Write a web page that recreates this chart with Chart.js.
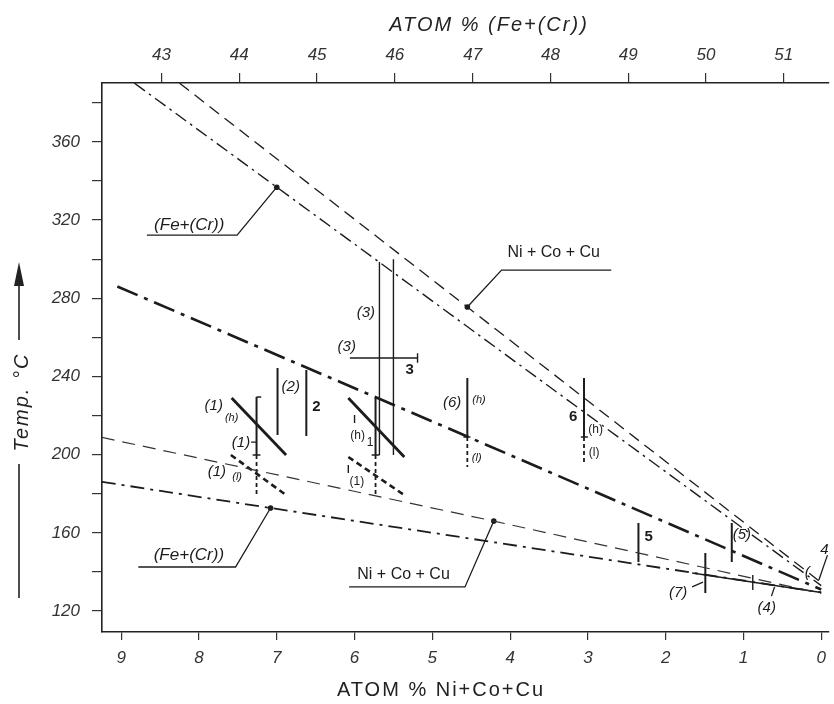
<!DOCTYPE html>
<html><head><meta charset="utf-8">
<script src="https://cdn.jsdelivr.net/npm/chart.js@4"></script>
<style>html,body{margin:0;padding:0;background:#fff}canvas{display:block}</style>
</head><body>
<canvas id="c" width="834" height="704"></canvas>
<script>
// ---- axis ticks ----
const bottomTicks = [9, 8, 7, 6, 5, 4, 3, 2, 1, 0];
const topTicks = [43, 44, 45, 46, 47, 48, 49, 50, 51];
const yTicks = [120, 140, 160, 180, 200, 220, 240, 260, 280, 300, 320, 340, 360, 380];
const yLabels = [120, 160, 200, 240, 280, 320, 360];

// ---- main lines (x = atom % Ni+Co+Cu, y = temperature °C) ----
const feUpperB = [8.83, 7.00, 0];
const feUpperT = [390.0, 336.8, 133.0];
const niUpperB = [8.25, 4.55, 0];
const niUpperT = [390.0, 275.5, 134.5];
const midB = [9.05, 4.81, 0];
const midT = [286.0, 213.7, 131.0];
const niLowerB = [9.25, 4.21, 0];
const niLowerT = [208.8, 166.0, 129.0];
const feLowerB = [9.25, 7.08, 0];
const feLowerT = [186.1, 172.7, 129.5];
const solid7B = [1.66, 0];
const solid7T = [139.4, 129.5];

// ---- measured segments [x1, y1, x2, y2] ----
const heavyDiag = [[7.58, 229.0, 6.88, 199.8], [6.08, 229.0, 5.36, 198.8]];
const heavyDiagDashed = [[7.59, 199.8, 6.88, 179.3], [6.08, 198.8, 5.36, 179.3]];
const rangeBars = [[7.26, 229.5, 7.26, 199.8], [6.99, 244.3, 6.99, 210.0], [6.62, 243.3, 6.62, 209.5],
  [5.73, 229.0, 5.73, 199.8], [4.55, 239.2, 4.55, 209.0], [3.05, 239.2, 3.05, 209.0],
  [2.35, 165.0, 2.35, 145.1], [1.15, 165.0, 1.15, 145.1], [1.49, 149.7, 1.49, 129.2]];
const rangeBarsDashed = [[7.26, 199.8, 7.26, 179.3], [5.73, 199.8, 5.73, 179.3],
  [4.55, 209.0, 4.55, 193.7], [3.05, 209.0, 3.05, 194.7]];
const thinBars = [[5.68, 298.5, 5.68, 199.8], [5.50, 300.0, 5.50, 199.8],
  [6.06, 249.4, 5.19, 249.4], [0.88, 138.4, 0.88, 130.7]];
const tickMarks = [[7.26, 229.5, 7.20, 229.5], [7.31, 199.8, 7.21, 199.8], [7.33, 206.4, 7.26, 206.4],
  [5.78, 199.8, 5.68, 199.8], [6.00, 220.3, 6.00, 216.2], [6.08, 194.7, 6.08, 190.6],
  [5.19, 251.8, 5.19, 247.0], [4.60, 209.0, 4.51, 209.0], [3.09, 209.0, 3.00, 209.0]];
const leaders = [
  [[8.67, 312.3], [7.51, 312.3], [7.00, 336.8]],
  [[4.55, 275.5], [4.11, 294.4], [2.70, 294.4]],
  [[8.78, 142.5], [7.53, 142.5], [7.08, 172.7]],
  [[6.07, 132.3], [4.58, 132.3], [4.21, 166.0]],
  [[1.66, 132.3], [1.52, 134.8]],
  [[0.64, 127.6], [0.60, 132.3]],
  [[-0.08, 148.6], [0.03, 135.9]]
];
const dotB = [7.00, 4.55, 7.08, 4.21];
const dotT = [336.8, 275.5, 172.7, 166.0];

// ---- text labels [text, x, y, kind] ----
const labelText = ['(Fe+(Cr))', 'Ni + Co + Cu', '(Fe+(Cr))', 'Ni + Co + Cu', '(3)', '(3)', '3', '(2)', '2',
  '(1)', '(h)', '(1)', '(1)', '(l)', '(h)', '1', '(1)', '(6)', '(h)', '(l)', '6', '(h)', '(l)',
  '5', '(5)', '(7)', '(4)', '4', '('];
const labelB = [8.125, 3.44, 8.13, 5.37, 5.855, 6.10, 5.29, 6.82, 6.49,
  7.81, 7.58, 7.46, 7.77, 7.51, 5.96, 5.80, 5.97, 4.745, 4.40, 4.43, 3.19, 2.90, 2.92,
  2.22, 1.02, 1.84, 0.70, -0.04, 0.18];
const labelT = [317.4, 303.1, 148.6, 138.4, 272.4, 255.0, 243.3, 234.6, 224.3,
  224.9, 218.7, 205.9, 191.1, 188.5, 209.5, 205.9, 186.0, 226.4, 227.9, 198.3, 219.2, 212.6, 200.8,
  157.9, 158.9, 129.2, 121.5, 151.2, 139.4];
const labelKind = ['bigI', 'big', 'bigI', 'big', 'mid', 'mid', 'up', 'mid', 'up',
  'mid', 'small', 'mid', 'mid', 'small', 'smallU', 'smallU', 'smallU', 'mid', 'small', 'small', 'up', 'smallU', 'smallU',
  'up', 'mid', 'mid', 'mid', 'mid', 'mid'];

const INK = '#1c1c1c';
const FONT = '"Liberation Sans", Arial, sans-serif';

function pts(b, t) { return b.map((v, i) => ({ x: v, y: t[i] })); }
function ds(data, opts) {
  return Object.assign({ data, showLine: true, pointRadius: 0, borderColor: INK, backgroundColor: INK,
    fill: false, tension: 0, xAxisID: 'x', yAxisID: 'y', borderCapStyle: 'butt' }, opts);
}
const datasets = [
  ds(pts(feUpperB, feUpperT), { borderWidth: 1.4, borderDash: [13, 5, 2.5, 5] }),
  ds(pts(niUpperB, niUpperT), { borderWidth: 1.3, borderDash: [12, 7] }),
  ds(pts(midB, midT), { borderWidth: 2.6, borderDash: [22, 7, 4, 7] }),
  ds(pts(niLowerB, niLowerT), { borderWidth: 1.2, borderDash: [13, 8], borderColor: '#333' }),
  ds(pts(feLowerB, feLowerT), { borderWidth: 1.8, borderDash: [14, 6, 3, 6] }),
  ds(pts(solid7B, solid7T), { borderWidth: 1.6 })
];
heavyDiag.forEach(s => datasets.push(ds(pts([s[0], s[2]], [s[1], s[3]]), { borderWidth: 2.8 })));
heavyDiagDashed.forEach(s => datasets.push(ds(pts([s[0], s[2]], [s[1], s[3]]), { borderWidth: 2.6, borderDash: [6, 4] })));
rangeBars.forEach(s => datasets.push(ds(pts([s[0], s[2]], [s[1], s[3]]), { borderWidth: 2.0 })));
rangeBarsDashed.forEach(s => datasets.push(ds(pts([s[0], s[2]], [s[1], s[3]]), { borderWidth: 1.8, borderDash: [4, 3] })));
thinBars.forEach(s => datasets.push(ds(pts([s[0], s[2]], [s[1], s[3]]), { borderWidth: 1.4 })));
tickMarks.forEach(s => datasets.push(ds(pts([s[0], s[2]], [s[1], s[3]]), { borderWidth: 1.4 })));
leaders.forEach(l => datasets.push(ds(l.map(p => ({ x: p[0], y: p[1] })), { borderWidth: 1.3 })));
datasets.push(ds(pts(dotB, dotT), { showLine: false, pointRadius: 2.8, pointBorderWidth: 0 }));

const KIND_FONT = {
  bigI: 'italic 17px ' + FONT,
  big: '16px ' + FONT,
  mid: 'italic 15px ' + FONT,
  up: 'bold 15px ' + FONT,
  small: 'italic 11px ' + FONT,
  smallU: '12px ' + FONT
};

const textPlugin = {
  id: 'texts',
  afterDatasetsDraw(chart) {
    const { ctx } = chart;
    const sx = chart.scales.x, sy = chart.scales.y;
    ctx.save();
    ctx.fillStyle = INK;
    ctx.textAlign = 'center';
    ctx.textBaseline = 'middle';
    labelText.forEach((t, i) => {
      ctx.font = KIND_FONT[labelKind[i]];
      ctx.fillText(t, sx.getPixelForValue(labelB[i]), sy.getPixelForValue(labelT[i]));
    });
    ctx.restore();
  },
  afterDraw(chart) {
    const { ctx } = chart;
    ctx.save();
    ctx.fillStyle = '#222';
    ctx.strokeStyle = '#222';
    ctx.textAlign = 'center';
    ctx.textBaseline = 'middle';
    try { ctx.letterSpacing = '2px'; } catch (e) {}
    ctx.font = 'italic 20px ' + FONT;
    ctx.fillText('ATOM % (Fe+(Cr))', 489, 25);
    ctx.font = '20px ' + FONT;
    ctx.fillText('ATOM % Ni+Co+Cu', 441, 690);
    // left title with arrow
    ctx.translate(22, 402);
    ctx.rotate(-Math.PI / 2);
    ctx.font = 'italic 20px ' + FONT;
    ctx.fillText('Temp. °C', 0, 0);
    ctx.lineWidth = 1.6;
    ctx.beginPath();
    ctx.moveTo(-62, -3); ctx.lineTo(-196, -3);
    ctx.moveTo(62, -3); ctx.lineTo(118, -3);
    ctx.stroke();
    ctx.beginPath();
    ctx.moveTo(140, -3); ctx.lineTo(116, -8); ctx.lineTo(116, 2); ctx.closePath();
    ctx.fill();
    ctx.restore();
  }
};

const tickFont = { family: FONT, size: 17, style: 'italic' };
const gridOpts = { drawOnChartArea: false, drawTicks: true, tickLength: 8, color: '#333', lineWidth: 1.2 };
const borderOpts = { display: true, color: '#222', width: 1.6 };

new Chart(document.getElementById('c'), {
  type: 'scatter',
  data: { datasets },
  options: {
    responsive: false,
    animation: false,
    devicePixelRatio: 1,
    layout: { padding: 0 },
    plugins: { legend: { display: false }, tooltip: { enabled: false } },
    scales: {
      x: {
        type: 'linear', position: 'bottom', reverse: true, min: -0.09, max: 9.247,
        afterBuildTicks: s => { s.ticks = bottomTicks.map(v => ({ value: v })); },
        afterFit: s => { s.height = 72; },
        ticks: { font: tickFont, color: '#333', padding: 8, callback: v => String(v) },
        grid: gridOpts, border: borderOpts
      },
      x2: {
        type: 'linear', position: 'top', min: 42.235, max: 51.571,
        afterBuildTicks: s => { s.ticks = topTicks.map(v => ({ value: v })); },
        afterFit: s => { s.height = 83; },
        ticks: { font: tickFont, color: '#333', padding: 8, callback: v => String(v) },
        grid: Object.assign({}, gridOpts, { tickLength: 10 }), border: borderOpts
      },
      y: {
        type: 'linear', position: 'left', min: 109.26, max: 390.1,
        afterBuildTicks: s => { s.ticks = yTicks.map(v => ({ value: v })); },
        afterFit: s => { s.width = 102; },
        ticks: { font: tickFont, color: '#333', padding: 12, callback: v => (yLabels.includes(v) ? String(v) : '') },
        grid: Object.assign({}, gridOpts, { tickLength: 10 }), border: borderOpts
      }
    }
  },
  plugins: [textPlugin]
});
</script>
</body></html>
